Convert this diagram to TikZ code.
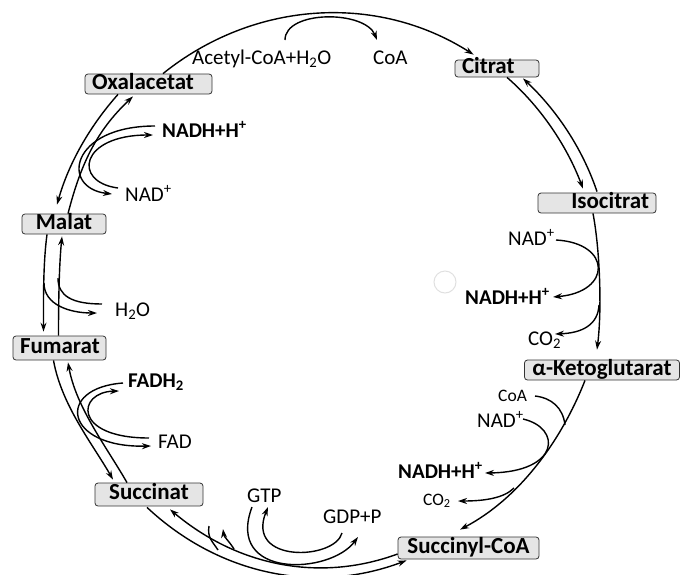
\documentclass[tikz,border=0pt]{standalone}
\usepackage{fontspec}
\setmainfont{Carlito}
\usetikzlibrary{arrows.meta,calc}
\tikzset{
  stoff/.style 2 args={draw=black!80, line width=0.8pt, fill=black!10, rounded corners=3pt,
    font=\bfseries\fontsize{23}{25}\selectfont, inner xsep=7pt, inner ysep=0pt,
    text height=14pt, text depth=4pt, minimum height=20pt, text width=#1, align=#2},
  co/.style={anchor=base west, inner sep=0pt, font=\fontsize{21}{23}\selectfont},
  cobf/.style={co, font=\bfseries\fontsize{21}{23}\selectfont},
  coklein/.style={co, font=\fontsize{17.5}{19}\selectfont},
  linie/.style={line width=1.4pt},
  pfeil/.style={linie, -{Stealth[length=9pt,width=6pt]}},
}
\begin{document}
\begin{tikzpicture}[x=1pt,y=-1pt]
\useasboundingbox (0,0) rectangle (681,574);
% Zwischenprodukte
\node[stoff={113pt}{left}] (oxal) at (148.5,84) {Oxalacetat};
\node[stoff={70pt}{left}, minimum height=17pt, text height=13pt, text depth=3pt] (citrat) at (497,68.5) {Citrat};
\node[stoff={104pt}{right}] (iso) at (597,203) {Isocitrat};
\node[stoff={141pt}{center}] (keto) at (602,370) {α-Ketoglutarat};
\node[stoff={127pt}{center}, minimum height=22pt] (scoa) at (468.5,548) {Succinyl-CoA};
\node[stoff={94pt}{center}, minimum height=23pt] (succ) at (149,494.5) {Succinat};
\node[stoff={79pt}{left}, minimum height=24pt] (fum) at (59.5,348) {Fumarat};
\node[stoff={70pt}{center}] (malat) at (64,224) {Malat};
% Cosubstrate
\node[co] (acetyl) at (192,64) {Acetyl-CoA+H\textsubscript{2}O};
\node[co] (coa1) at (373,64) {CoA};
\node[cobf] (nadh3) at (162,137.5) {NADH+H\textsuperscript{+}};
\node[co] (nad3) at (125,201) {NAD\textsuperscript{+}};
\node[co] (h2o) at (115,316) {H\textsubscript{2}O};
\node[cobf] (fadh) at (128,387) {FADH\textsubscript{2}};
\node[co] (fad) at (158,448) {FAD};
\node[co] (gtp) at (247,502) {GTP};
\node[co] (gdp) at (323,523) {GDP+P};
\node[cobf] (nadh2) at (398,478) {NADH+H\textsuperscript{+}};
\node[coklein] (co2b) at (423,505) {CO\textsubscript{2}};
\node[coklein] (coa2) at (498,401) {CoA};
\node[co] (nad2) at (477,427) {NAD\textsuperscript{+}};
\node[co] (nad1) at (508,245) {NAD\textsuperscript{+}};
\node[cobf] (nadh1) at (465,304) {NADH+H\textsuperscript{+}};
\node[co] (co2a) at (528,345) {CO\textsubscript{2}};
% Punkte auf den Boegen
\coordinate (isoco2) at (599,305);
\coordinate (ketocoa) at (565,425);
\coordinate (ketoco2) at (514,488);
\coordinate (malh2oa) at (58,278);
\coordinate (malh2ob) at (44,283);
\coordinate (hka) at (209,526);
\coordinate (hkb) at (218,550);
\coordinate (hkc) at (234,549);
\coordinate (hkd) at (223,529);

% Oxalacetat -> Citrat
\draw[pfeil] ([xshift=14.5pt]oxal.north) .. controls +(90,-72.5) and +(-97.6,-62) .. ([shift={(19,-5)}]citrat.north west);
\draw[pfeil] ([shift={(93,-24)}]acetyl.base west) .. controls +(0,-30) and +(-12,-30) .. ([shift={(4,-24)}]coa1.base west);
% Citrat <-> Isocitrat
\draw[pfeil] ([xshift=10pt]citrat.south) .. controls +(33.9,29.4) and +(-15.8,-42) .. ([shift={(-14,-4)}]iso.north);
\draw[pfeil] ([shift={(0,-1)}]iso.north) .. controls +(-14.7,-43.6) and +(33.4,31.6) .. ([shift={(26,1)}]citrat.south);
% Isocitrat -> alpha-Ketoglutarat
\draw[pfeil] ([xshift=-4pt]iso.south) .. controls +(7,37) and +(5,-40) .. ([shift={(-5,-10)}]keto.north);
\draw[pfeil] ([shift={(48,-5)}]nad1.base west) .. controls +(56,3) and +(59,-5) .. ([shift={(88,-7)}]nadh1.base west);
\draw[pfeil] (isoco2) .. controls +(-1,20) and +(27,-1) .. ([shift={(27,-11)}]co2a.base west);
% alpha-Ketoglutarat -> Succinyl-CoA
\draw[pfeil] ([xshift=-17pt]keto.south) .. controls +(-24.2,61.6) and +(58.6,-30.8) .. ([shift={(-8.5,-7)}]scoa.north);
\draw[linie] ([shift={(37,-5)}]coa2.base west) .. controls +(17,2) and +(-2,-17) .. (ketocoa);
\draw[pfeil] ([shift={(46,-8)}]nad2.base west) .. controls +(39,9) and +(75,-1) .. ([shift={(87,-5)}]nadh2.base west);
\draw[pfeil] (ketoco2) .. controls +(-10,10) and +(27,0) .. ([shift={(35,-4)}]co2b.base west);
% Succinyl-CoA <-> Succinat
\draw[pfeil] ([shift={(0,6)}]scoa.west) .. controls +(-79,29) and +(66.5,56) .. ([shift={(21,3)}]succ.south);
\draw[pfeil] ([shift={(-2,1)}]succ.south) .. controls +(72.6,68) and +(-90.2,34) .. ([shift={(9,1)}]scoa.south west);
\draw[pfeil] ([shift={(19,10)}]gdp.base west) .. controls +(-7,27) and +(-23,57) .. ([shift={(21,5)}]gtp.base west);
\draw[pfeil] ([shift={(5,5)}]gtp.base west) .. controls +(-27,72) and +(-28,38) .. ([shift={(35,14)}]gdp.base west);
\draw[linie] (hka) .. controls +(-2,12) and +(-5,-8) .. (hkb);
\draw[pfeil] (hkc) .. controls +(-5,-8) and +(1,8) .. (hkd);
% Succinat <-> Fumarat
\draw[pfeil] ([xshift=-6pt]fum.south) .. controls +(8,45) and +(-20,-35) .. ([shift={(-36,-3)}]succ.north);
\draw[pfeil] ([xshift=-22pt]succ.north) .. controls +(-20,-35) and +(8,45) .. ([shift={(8.5,2)}]fum.south);
\draw[pfeil] ([shift={(-5,-4)}]fadh.base west) .. controls +(-68,5) and +(-87,2) .. ([shift={(-7,-2)}]fad.base west);
\draw[pfeil] ([shift={(-9,-10)}]fad.base west) .. controls +(-77,0) and +(-42,1) .. ([shift={(-9,4)}]fadh.base west);
% Fumarat <-> Malat
\draw[pfeil] ([xshift=-17pt]malat.south) .. controls +(-4,30) and +(0,-30) .. ([shift={(-16,-4)}]fum.north);
\draw[pfeil] ([xshift=-1pt]fum.north) .. controls +(0,-30) and +(-3,30) .. ([shift={(-2,2)}]malat.south);
\draw[linie] ([shift={(-13,-12)}]h2o.base west) .. controls +(-30,0) and +(0,18) .. (malh2oa);
\draw[pfeil] (malh2ob) .. controls +(0,22) and +(-27,0) .. ([shift={(-18,-3)}]h2o.base west);
% Malat <-> Oxalacetat
\draw[pfeil] ([xshift=-30.5pt]oxal.south) .. controls +(-28.4,31.9) and +(11.6,-41.1) .. ([shift={(-7,-9)}]malat.north);
\draw[pfeil] ([xshift=4pt]malat.north) .. controls +(12.7,-49.2) and +(-36.9,34.8) .. ([shift={(-15.5,2)}]oxal.south);
\draw[pfeil] ([shift={(-7,-11.5)}]nadh3.base west) .. controls +(-85,0) and +(-52,-6) .. ([shift={(-13,-7)}]nad3.base west);
\draw[pfeil] ([shift={(-7,-13)}]nad3.base west) .. controls +(-46,-6) and +(-73,0) .. ([shift={(-9,-2.5)}]nadh3.base west);

\draw[black!12, line width=1pt] (445,282) circle[radius=11];
\end{tikzpicture}
\end{document}
